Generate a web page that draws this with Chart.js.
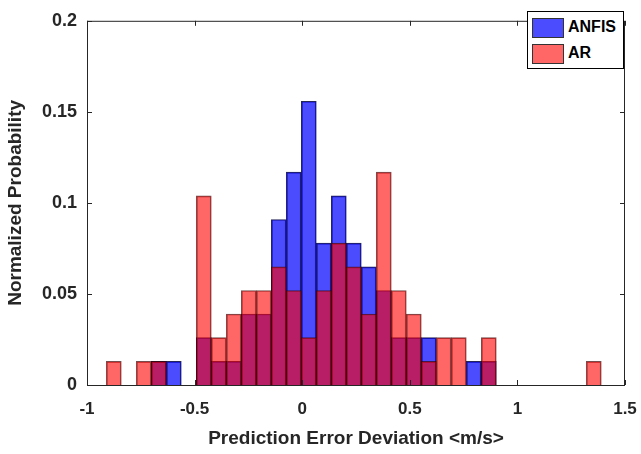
<!DOCTYPE html>
<html>
<head>
<meta charset="utf-8">
<script src="https://cdn.jsdelivr.net/npm/chart.js@4"></script>
<style>
  body { margin: 0; background: #fff; }
  #wrap { position: relative; width: 641px; height: 454px; }
  #legend {
    position: absolute; left: 527px; top: 11px; width: 97px; height: 58px;
    border: 1px solid #000; background: #fff;
    font: bold 16px "Liberation Sans", Arial, sans-serif; box-sizing: border-box;
  }
  .row { position: absolute; left: 4px; height: 22px; line-height: 22px; }
  .sw { display: inline-block; width: 32px; height: 20px; vertical-align: middle; border: 1px solid #333; box-sizing: border-box; margin-right: 4px; }
</style>
</head>
<body>
<div id="wrap">
  <canvas id="c" width="641" height="454"></canvas>
  <div id="legend">
    <div class="row" style="top:4px"><span class="sw" style="background:rgba(0,0,255,0.7)"></span>ANFIS</div>
    <div class="row" style="top:30px"><span class="sw" style="background:rgba(255,0,0,0.6)"></span>AR</div>
  </div>
</div>
<script>
// bin centres (bin width ~0.0697)
const binCenters = [-0.8755, -0.8058, -0.7361, -0.6664, -0.5967, -0.5270, -0.4573, -0.3876, -0.3179, -0.2482,
  -0.1785, -0.1088, -0.0391, 0.0306, 0.1003, 0.1700, 0.2397, 0.3094, 0.3791, 0.4488,
  0.5185, 0.5882, 0.6579, 0.7276, 0.7973, 0.8670, 0.9367, 1.0064, 1.0761, 1.1458,
  1.2155, 1.2852, 1.3549];

const anfisProb = [0, 0, 0, 0.0130, 0.0130, 0, 0.0260, 0.0130, 0.0130, 0.0390,
  0.0390, 0.0909, 0.1169, 0.1558, 0.0779, 0.1039, 0.0779, 0.0649, 0.0519, 0.0260,
  0.0260, 0.0260, 0, 0, 0.0130, 0.0130, 0, 0, 0, 0,
  0, 0, 0];

const arProb = [0.0130, 0, 0.0130, 0.0130, 0, 0, 0.1039, 0.0260, 0.0390, 0.0519,
  0.0519, 0.0649, 0.0519, 0.0260, 0.0519, 0.0779, 0.0649, 0.0390, 0.1169, 0.0519,
  0.0390, 0.0130, 0.0260, 0.0260, 0, 0.0260, 0, 0, 0, 0,
  0, 0, 0.0130];

const xTicks = [-1, -0.5, 0, 0.5, 1, 1.5];
const yTicks = [0, 0.05, 0.1, 0.15, 0.2];

const font = { family: '"Liberation Sans", Arial, sans-serif', weight: 'bold', size: 18 };

const toPoints = arr => arr.map((v, i) => ({ x: binCenters[i], y: v }));

const frame = {
  id: 'frame',
  afterDraw(chart) {
    const { ctx, chartArea: a } = chart;
    ctx.save();
    ctx.strokeStyle = '#262626';
    ctx.lineWidth = 1;
    ctx.strokeRect(a.left + 0.5, a.top + 0.5, a.right - a.left - 1, a.bottom - a.top);
    // inward ticks
    const xs = chart.scales.x, ys = chart.scales.y;
    ctx.beginPath();
    xTicks.forEach(t => {
      const px = Math.round(xs.getPixelForValue(t)) + 0.5;
      ctx.moveTo(px, a.bottom); ctx.lineTo(px, a.bottom - 5);
      ctx.moveTo(px, a.top); ctx.lineTo(px, a.top + 5);
    });
    yTicks.forEach(t => {
      const py = Math.round(ys.getPixelForValue(t)) + 0.5;
      ctx.moveTo(a.left, py); ctx.lineTo(a.left + 5, py);
      ctx.moveTo(a.right, py); ctx.lineTo(a.right - 5, py);
    });
    ctx.stroke();
    ctx.restore();
  }
};

new Chart(document.getElementById('c'), {
  type: 'bar',
  data: {
    datasets: [
      { label: 'ANFIS', data: toPoints(anfisProb), backgroundColor: 'rgba(0,0,255,0.7)',
        borderColor: 'rgba(0,0,60,0.85)', borderWidth: 1, order: 1 },
      { label: 'AR', data: toPoints(arProb), backgroundColor: 'rgba(255,0,0,0.6)',
        borderColor: 'rgba(60,0,0,0.7)', borderWidth: 1, order: 0 }
    ]
  },
  options: {
    responsive: false,
    animation: false,
    layout: { padding: { top: 10, right: 16, left: 0, bottom: 0 } },
    datasets: { bar: { grouped: false, barPercentage: 1, categoryPercentage: 1 } },
    plugins: { legend: { display: false }, tooltip: { enabled: false } },
    scales: {
      x: {
        type: 'linear', min: -1, max: 1.5, offset: false,
        afterBuildTicks: s => { s.ticks = xTicks.map(v => ({ value: v })); },
        afterFit: s => { s.height = 69; s.paddingRight = 0; s.paddingLeft = 0; },
        grid: { display: false, drawTicks: false, offset: false },
        border: { display: false },
        ticks: { font: { ...font, size: 17 }, color: '#262626', padding: 14, maxRotation: 0, callback: v => String(v) },
        title: { display: true, text: 'Prediction Error Deviation <m/s>', font: { ...font, size: 19 }, color: '#262626', padding: { top: 4 } }
      },
      y: {
        min: 0, max: 0.2,
        afterBuildTicks: s => { s.ticks = yTicks.map(v => ({ value: v })); },
        afterFit: s => { s.width = 87; },
        grid: { display: false, drawTicks: false },
        border: { display: false },
        ticks: { font, color: '#262626', padding: 10, callback: v => String(v) },
        title: { display: true, text: 'Normalized Probability', font: { ...font, size: 19 }, color: '#262626', padding: { bottom: 2 } }
      }
    }
  },
  plugins: [frame]
});
</script>
</body>
</html>
